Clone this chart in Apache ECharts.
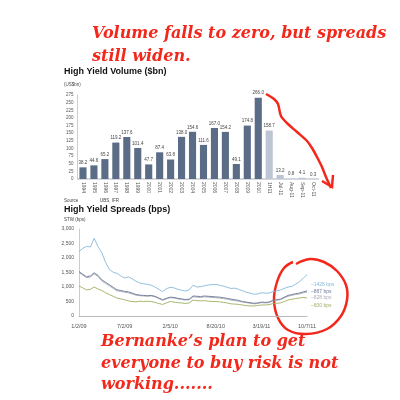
<!DOCTYPE html>
<html><head><meta charset="utf-8">
<script src="https://cdn.jsdelivr.net/npm/echarts@6/dist/echarts.min.js"></script>
<style>html,body{margin:0;padding:0;background:#fff}#c{width:400px;height:400px}</style>
</head><body><div id="c"></div>
<script>
// ---- Volume chart data ----
const volCategories = ['1994','1995','1996','1997','1998','1999','2000','2001','2002','2003','2004','2005','2006','2007','2008','2009','2010','1H11','Jul-11','Aug-11','Sep-11','Oct-11'];
const volValues = [38.2,44.6,65.2,119.2,137.6,101.4,47.7,87.4,63.8,138.0,154.6,111.6,167.0,154.2,49.1,174.8,266.0,158.7,13.2,0.8,4.1,0.3];
const volTicks = [0,25,50,75,100,125,150,175,200,225,250,275];
// ---- Spreads chart data (bps, roughly bi-weekly) ----
const spreadTickLabels = ['1/2/09','7/2/09','2/5/10','8/20/10','3/19/11','10/7/11'];
const ccc = [2220,2330,2400,2380,2680,2390,2180,1850,1600,1510,1470,1380,1310,1350,1280,1200,1140,1110,1090,1060,1000,920,840,940,990,970,920,890,860,900,1060,1000,1010,1040,1070,1080,1090,1060,1030,990,950,960,920,870,820,790,750,760,800,790,790,840,860,900,950,1000,1020,1100,1180,1300,1426];
const hyAll = [1530,1440,1350,1380,1490,1400,1250,1160,1080,990,900,880,850,830,790,740,720,710,700,710,680,620,560,610,650,640,610,590,570,580,690,680,670,690,680,670,660,650,630,610,580,560,540,500,480,460,440,450,480,470,480,540,560,580,650,710,740,770,790,830,867];
const hyB = [1500,1410,1320,1350,1450,1360,1210,1120,1040,950,870,850,820,800,760,720,700,690,680,690,660,600,540,590,630,620,590,570,550,560,660,650,640,660,650,640,630,620,600,580,550,530,510,480,460,440,420,430,460,450,460,520,540,560,620,680,710,740,760,800,828];
const bb = [1035,970,900,920,1000,930,880,800,740,680,620,590,560,520,500,490,510,500,510,500,470,430,400,450,500,480,460,450,430,450,550,530,520,530,510,500,500,490,470,450,420,410,400,380,360,350,345,360,380,380,390,430,440,450,500,550,580,600,620,640,620];
const spreadTicks = [0,500,1000,1500,2000,2500,3000];
const endLabels = ['\u20131426 bps','\u2013867 bps','\u2013828 bps','\u2013600 bps'];

const spreadCats = ccc.map((_, i) => String(i));
const red = '#f2281c';
const colBlue = '#86b8d8', colNavy = '#6b7896', colGray = '#a9acb8', colOlive = '#9cb060';

const chart = echarts.init(document.getElementById('c'), null, {renderer: 'canvas'});
const serif = 'bold italic 16px "DejaVu Serif"';
const small = 'Liberation Sans';

chart.setOption({
  backgroundColor: '#fff',
  animation: false,
  grid: [
    {left: 77.5, top: 95, width: 241, height: 84},
    {left: 79, top: 229, width: 228, height: 87}
  ],
  xAxis: [
    {gridIndex: 0, type: 'category', data: volCategories,
     axisLine: {lineStyle: {color: '#c8ccd4', width: 1.5}}, axisTick: {show: false},
     axisLabel: {rotate: -90, fontSize: 5, color: '#555', fontFamily: small, margin: 3, interval: 0}},
    {gridIndex: 1, type: 'category', data: spreadCats, boundaryGap: false,
     axisLine: {lineStyle: {color: '#bbb', width: 1}}, axisTick: {show: false},
     axisLabel: {fontSize: 5.5, color: '#555', fontFamily: small, margin: 7, interval: 0,
       formatter: (v, i) => (i % 12 === 0 ? spreadTickLabels[i / 12] : '')}}
  ],
  yAxis: [
    {gridIndex: 0, type: 'value', min: 0, max: 275, interval: 25,
     splitLine: {show: false}, axisLine: {show: true, lineStyle: {color: '#ccc'}}, axisTick: {show: false},
     axisLabel: {fontSize: 4.5, color: '#555', fontFamily: small, margin: 4,
       formatter: v => (volTicks.indexOf(v) >= 0 ? String(v) : '')}},
    {gridIndex: 1, type: 'value', min: 0, max: 3000, interval: 500,
     splitLine: {show: false}, axisLine: {show: true, lineStyle: {color: '#ccc'}}, axisTick: {show: false},
     axisLabel: {fontSize: 5, color: '#555', fontFamily: small, margin: 5,
       formatter: v => (spreadTicks.indexOf(v) >= 0 ? v.toLocaleString('en-US') : '')}}
  ],
  series: [
    {type: 'bar', xAxisIndex: 0, yAxisIndex: 0, data: volValues, barCategoryGap: '35%',
     itemStyle: {color: p => (p.dataIndex >= 17 ? '#bcc5d3' : '#5b6c87')},
     label: {show: true, position: 'top', distance: 2, fontSize: 4.5, color: '#444', fontFamily: small,
       formatter: p => p.value.toFixed(1)}},
    {type: 'line', xAxisIndex: 1, yAxisIndex: 1, data: ccc, symbol: 'none', lineStyle: {color: colBlue, width: 0.9}},
    {type: 'line', xAxisIndex: 1, yAxisIndex: 1, data: hyB, symbol: 'none', lineStyle: {color: colGray, width: 0.9}},
    {type: 'line', xAxisIndex: 1, yAxisIndex: 1, data: hyAll, symbol: 'none', lineStyle: {color: colNavy, width: 0.9}},
    {type: 'line', xAxisIndex: 1, yAxisIndex: 1, data: bb, symbol: 'none', lineStyle: {color: colOlive, width: 0.9}}
  ],
  graphic: [
    {type: 'text', left: 92, top: 26, style: {text: 'Volume falls to zero, but spreads', font: serif, fill: red}},
    {type: 'text', left: 92, top: 49, style: {text: 'still widen.', font: serif, fill: red}},
    {type: 'text', left: 64, top: 67, style: {text: 'High Yield Volume ($bn)', font: 'bold 9px "Liberation Sans"', fill: '#111'}},
    {type: 'text', left: 64, top: 82, style: {text: '(US$bn)', font: '4.5px "Liberation Sans"', fill: '#444'}},
    {type: 'text', left: 64, top: 198, style: {text: 'Source', font: '4.5px "Liberation Sans"', fill: '#444'}},
    {type: 'text', left: 100, top: 198, style: {text: 'UBS, IFR', font: '4.5px "Liberation Sans"', fill: '#444'}},
    {type: 'text', left: 64, top: 205, style: {text: 'High Yield Spreads (bps)', font: 'bold 9px "Liberation Sans"', fill: '#111'}},
    {type: 'text', left: 64, top: 217, style: {text: 'STW (bps)', font: '4.5px "Liberation Sans"', fill: '#444'}},
    {type: 'text', left: 311, top: 282, style: {text: endLabels[0], font: '5px "Liberation Sans"', fill: colBlue}},
    {type: 'text', left: 311, top: 289.5, style: {text: endLabels[1], font: '5px "Liberation Sans"', fill: colNavy}},
    {type: 'text', left: 311, top: 295.5, style: {text: endLabels[2], font: '5px "Liberation Sans"', fill: colGray}},
    {type: 'text', left: 311, top: 303, style: {text: endLabels[3], font: '5px "Liberation Sans"', fill: colOlive}},
    {type: 'text', left: 101, top: 334, style: {text: 'Bernanke\u2019s plan to get', font: serif, fill: red}},
    {type: 'text', left: 101, top: 356, style: {text: 'everyone to buy risk is not', font: serif, fill: red}},
    {type: 'text', left: 101, top: 377, style: {text: 'working.......', font: serif, fill: red}},
    {type: 'polyline', shape: {points: [[266,94],[274,99],[278,104],[281,116],[288,124],[297,132],[307,141],[312,148],[317,157],[322,167],[326,177],[331,188]], smooth: 0.3},
     style: {stroke: red, lineWidth: 2.5, fill: null}},
    {type: 'polyline', shape: {points: [[322,181],[332,187],[333,175]]}, style: {stroke: red, lineWidth: 2.5, fill: null}},
    {type: 'polyline', shape: {points: [[296,264],[310,259],[324,262],[337,271],[346,285],[347,300],[341,316],[327,329],[306,334],[288,330],[278,318],[274,300],[277,282],[284,268],[293,262]], smooth: 0.4},
     style: {stroke: red, lineWidth: 2.5, fill: null}}
  ]
});
</script></body></html>
